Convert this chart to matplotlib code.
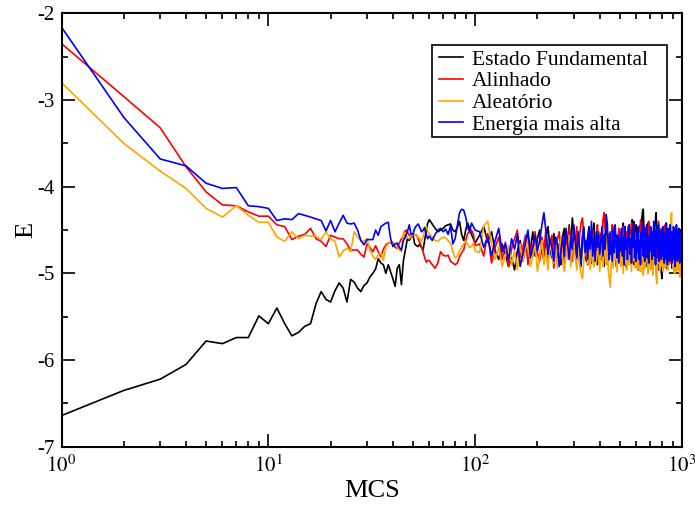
import numpy as np
import matplotlib
matplotlib.use("Agg")
import matplotlib.pyplot as plt
from matplotlib.ticker import FixedLocator, NullFormatter
from matplotlib.patches import Rectangle

plt.rcParams['font.family'] = ['Liberation Serif', 'DejaVu Serif']
plt.rcParams['mathtext.fontset'] = 'stix'
plt.rcParams['axes.unicode_minus'] = False

# MCS steps: every step to 60, every 2nd to 100, every 5th to 1000
mcs = list(range(1, 61)) + list(range(62, 101, 2)) + list(range(105, 1001, 5))

labels = ["Estado Fundamental", "Alinhado", "Aleatório", "Energia mais alta"]
colors = ["#000000", "#ff0000", "#ffa500", "#0000ff"]

estado_fundamental = [
    -6.64, -6.35, -6.22, -6.05, -5.78, -5.81, -5.74, -5.74, -5.49, -5.58,
    -5.40, -5.58, -5.72, -5.68, -5.61, -5.58, -5.35, -5.21, -5.30, -5.33,
    -5.20, -5.11, -5.17, -5.33, -5.07, -5.10, -5.17, -5.21, -5.14, -5.11,
    -5.04, -5.00, -4.95, -4.83, -4.88, -4.90, -5.00, -4.90, -4.98, -5.06,
    -5.15, -4.94, -4.90, -5.13, -4.85, -4.73, -4.60, -4.62, -4.58, -4.55,
    -4.66, -4.68, -4.69, -4.66, -4.70, -4.73, -4.62, -4.50, -4.42, -4.38,
    -4.43, -4.48, -4.52, -4.50, -4.48, -4.45, -4.44, -4.43, -4.50, -4.52,
    -4.47, -4.40, -4.55, -4.62, -4.50, -4.42, -4.48, -4.55, -4.60, -4.65,
    -4.56, -4.46, -4.64, -4.52, -4.74, -4.84, -4.66, -4.78, -4.92, -4.82,
    -4.96, -4.74, -4.62, -4.86, -4.70, -4.56, -4.72, -4.52, -4.80, -4.60,
    -4.50, -4.76, -4.84, -4.58, -4.46, -4.72, -4.82, -4.54, -4.70, -4.88,
    -4.66, -4.90, -4.56, -4.48, -4.80, -4.64, -4.44, -4.70, -4.36, -4.54,
    -4.72, -4.84, -4.52, -4.78, -4.92, -4.60, -4.48, -4.76, -4.86, -4.58,
    -4.46, -4.74, -4.88, -4.56, -4.42, -4.80, -4.62, -4.90, -4.52, -4.72,
    -4.84, -4.50, -4.66, -4.92, -4.72, -4.44, -4.70, -4.86, -4.54, -4.78,
    -4.60, -4.90, -4.68, -4.46, -4.82, -4.56, -4.94, -4.66, -4.50, -4.76,
    -4.86, -4.52, -4.72, -4.42, -4.84, -4.60, -4.92, -4.54, -4.78, -4.46,
    -4.68, -4.88, -4.50, -4.80, -4.38, -4.72, -4.90, -4.56, -4.76, -4.44,
    -4.82, -4.58, -4.96, -4.52, -4.70, -4.44, -4.86, -4.36, -4.28, -4.26,
    -4.52, -4.80, -4.60, -4.92, -4.54, -4.76, -4.42, -4.88, -4.58, -4.78,
    -4.50, -4.72, -4.94, -4.56, -4.84, -4.44, -4.68, -4.88, -4.36, -4.30,
    -4.54, -4.80, -4.62, -4.96, -4.56, -4.86, -4.50, -4.94, -5.00, -5.06,
    -4.80, -4.52, -4.74, -4.46, -4.88, -4.58, -4.82, -4.42, -4.70, -4.84,
    -4.56, -4.90, -4.50, -4.76, -4.60, -4.86, -4.44, -4.72, -4.94, -4.54,
    -4.82, -4.60, -4.96, -4.54, -4.84, -4.48, -4.92, -4.64, -4.86, -4.58,
    -4.52, -4.80, -4.96, -4.60, -4.88, -4.50, -4.74, -4.84, -4.56, -4.70,
]

alinhado = [
    -2.35, -2.96, -3.32, -3.77, -4.06, -4.21, -4.22, -4.29, -4.34, -4.34,
    -4.44, -4.46, -4.61, -4.57, -4.55, -4.48, -4.60, -4.63, -4.69, -4.56,
    -4.58, -4.60, -4.60, -4.66, -4.73, -4.73, -4.73, -4.78, -4.81, -4.66,
    -4.70, -4.75, -4.68, -4.75, -4.81, -4.72, -4.67, -4.65, -4.65, -4.64,
    -4.70, -4.71, -4.65, -4.60, -4.58, -4.50, -4.52, -4.56, -4.58, -4.56,
    -4.55, -4.56, -4.60, -4.65, -4.69, -4.75, -4.82, -4.87, -4.85, -4.85,
    -4.90, -4.94, -4.88, -4.75, -4.79, -4.80, -4.79, -4.86, -4.88, -4.90,
    -4.88, -4.81, -4.76, -4.73, -4.62, -4.54, -4.52, -4.50, -4.55, -4.68,
    -4.66, -4.80, -4.54, -4.88, -4.70, -4.58, -4.84, -4.64, -4.92, -4.72,
    -4.60, -4.50, -4.82, -4.70, -4.56, -4.90, -4.66, -4.80, -4.52, -4.76,
    -4.86, -4.58, -4.74, -4.48, -4.84, -4.64, -4.56, -4.94, -4.70, -4.60,
    -4.52, -4.82, -4.62, -4.90, -4.56, -4.78, -4.46, -4.72, -4.86, -4.58,
    -4.70, -4.46, -4.84, -4.56, -4.42, -4.36, -4.54, -4.80, -4.62, -4.90,
    -4.74, -4.52, -4.86, -4.50, -4.68, -4.84, -4.58, -4.44, -4.80, -4.62,
    -4.54, -4.82, -4.38, -4.30, -4.50, -4.74, -4.90, -4.58, -4.80, -4.52,
    -4.66, -4.44, -4.84, -4.70, -4.54, -4.92, -4.60, -4.78, -4.48, -4.74,
    -4.86, -4.56, -4.72, -4.46, -4.82, -4.60, -4.90, -4.52, -4.76, -4.64,
    -4.50, -4.80, -4.58, -4.42, -4.86, -4.68, -4.54, -4.84, -4.62, -4.92,
    -4.56, -4.76, -4.48, -4.84, -4.60, -4.38, -4.72, -4.88, -4.54, -4.80,
    -4.64, -4.46, -4.88, -4.58, -4.80, -4.50, -4.72, -4.40, -4.86, -4.56,
    -4.76, -4.50, -4.84, -4.62, -4.94, -4.54, -4.80, -4.46, -4.70, -4.88,
    -4.58, -4.82, -4.52, -4.40, -4.74, -4.86, -4.56, -4.78, -4.48, -4.84,
    -4.62, -4.92, -4.54, -4.80, -4.60, -4.44, -4.86, -4.70, -4.56, -4.95,
    -4.74, -4.50, -4.84, -4.62, -4.56, -4.88, -4.48, -4.80, -4.60, -4.72,
    -4.84, -4.54, -4.70, -4.92, -4.58, -4.80, -4.50, -4.76, -4.86, -4.56,
    -4.66, -4.84, -4.52, -4.94, -4.62, -4.80, -4.56, -4.88, -4.60, -4.74,
]

aleatorio = [
    -2.80, -3.50, -3.82, -4.02, -4.25, -4.35, -4.22, -4.33, -4.41, -4.41,
    -4.58, -4.63, -4.52, -4.60, -4.56, -4.57, -4.57, -4.61, -4.52, -4.60,
    -4.63, -4.81, -4.74, -4.71, -4.75, -4.52, -4.58, -4.62, -4.63, -4.60,
    -4.73, -4.80, -4.84, -4.78, -4.77, -4.85, -4.69, -4.66, -4.64, -4.65,
    -4.66, -4.70, -4.73, -4.75, -4.52, -4.55, -4.59, -4.60, -4.57, -4.55,
    -4.55, -4.57, -4.58, -4.60, -4.63, -4.58, -4.49, -4.46, -4.52, -4.54,
    -4.58, -4.62, -4.63, -4.60, -4.58, -4.59, -4.62, -4.65, -4.75, -4.82,
    -4.80, -4.74, -4.70, -4.66, -4.63, -4.66, -4.70, -4.69, -4.65, -4.74,
    -4.76, -4.45, -4.40, -4.66, -4.84, -4.70, -4.92, -4.80, -4.68, -4.90,
    -4.74, -4.96, -4.66, -4.86, -4.72, -4.60, -4.92, -4.80, -4.68, -4.98,
    -4.80, -4.62, -4.90, -4.72, -4.96, -4.64, -4.78, -4.88, -4.66, -4.94,
    -4.74, -4.58, -4.86, -4.98, -4.68, -4.84, -4.56, -4.92, -4.72, -4.64,
    -4.82, -4.96, -4.66, -4.90, -5.00, -5.06, -4.86, -4.74, -4.62, -4.88,
    -4.72, -4.96, -4.58, -4.84, -4.92, -4.66, -4.88, -4.76, -4.60, -4.98,
    -4.78, -4.62, -4.92, -4.80, -4.66, -4.90, -4.56, -4.96, -5.06, -5.16,
    -4.90, -4.70, -4.94, -4.62, -4.84, -4.72, -4.98, -4.58, -4.86, -4.74,
    -4.92, -4.64, -4.82, -5.00, -4.60, -4.88, -4.70, -4.96, -4.62, -4.84,
    -4.90, -4.56, -4.78, -4.98, -4.64, -4.86, -4.70, -4.52, -4.94, -4.80,
    -4.62, -4.96, -4.74, -4.88, -4.54, -4.98, -4.70, -4.84, -4.60, -5.02,
    -4.80, -4.64, -4.94, -4.56, -4.86, -4.72, -5.00, -4.62, -4.90, -4.70,
    -4.96, -4.60, -4.84, -4.70, -5.02, -4.64, -4.88, -4.56, -4.92, -5.04,
    -5.12, -4.94, -4.72, -4.88, -4.60, -4.96, -4.68, -4.86, -4.58, -4.92,
    -4.74, -4.98, -4.62, -4.86, -4.56, -4.94, -4.70, -4.90, -4.60, -4.82,
    -4.96, -4.64, -4.88, -4.56, -4.78, -4.48, -4.36, -4.30, -4.58, -4.86,
    -4.94, -4.62, -4.84, -5.00, -4.68, -4.90, -4.56, -4.98, -4.72, -4.88,
    -4.64, -4.96, -4.80, -4.60, -5.04, -4.70, -4.92, -4.58, -4.94, -4.76,
]

energia_mais_alta = [
    -2.16, -3.20, -3.68, -3.76, -3.96, -4.02, -4.01, -4.22, -4.23, -4.25,
    -4.39, -4.37, -4.38, -4.31, -4.33, -4.35, -4.37, -4.39, -4.51, -4.39,
    -4.52, -4.42, -4.33, -4.42, -4.43, -4.42, -4.50, -4.62, -4.67, -4.61,
    -4.61, -4.61, -4.50, -4.56, -4.46, -4.44, -4.42, -4.41, -4.60, -4.69,
    -4.66, -4.65, -4.70, -4.73, -4.62, -4.58, -4.52, -4.44, -4.55, -4.55,
    -4.48, -4.45, -4.43, -4.47, -4.52, -4.50, -4.47, -4.55, -4.60, -4.57,
    -4.62, -4.55, -4.50, -4.48, -4.52, -4.49, -4.55, -4.45, -4.66, -4.60,
    -4.45, -4.30, -4.26, -4.27, -4.35, -4.47, -4.52, -4.42, -4.46, -4.50,
    -4.52, -4.70, -4.58, -4.80, -4.62, -4.48, -4.75, -4.66, -4.84, -4.60,
    -4.72, -4.55, -4.92, -4.78, -4.64, -4.50, -4.82, -4.68, -4.56, -4.74,
    -4.62, -4.45, -4.30, -4.52, -4.78, -4.60, -4.70, -4.86, -4.58, -4.66,
    -4.92, -4.74, -4.56, -4.80, -4.48, -4.66, -4.84, -4.58, -4.72, -4.44,
    -4.62, -4.82, -4.54, -4.70, -4.88, -4.58, -4.46, -4.76, -4.62, -4.84,
    -4.50, -4.72, -4.40, -4.80, -4.60, -4.86, -4.52, -4.70, -4.56, -4.78,
    -4.64, -4.46, -4.80, -4.55, -4.72, -4.32, -4.42, -4.68, -4.84, -4.54,
    -4.70, -4.86, -4.50, -4.76, -4.44, -4.62, -4.82, -4.56, -4.88, -4.60,
    -4.74, -4.48, -4.80, -4.58, -4.90, -4.46, -4.72, -4.60, -4.84, -4.52,
    -4.44, -4.78, -4.60, -4.88, -4.50, -4.70, -4.40, -4.82, -4.62, -4.86,
    -4.54, -4.76, -4.46, -4.84, -4.62, -4.90, -4.52, -4.70, -4.42, -4.80,
    -4.58, -4.86, -4.48, -4.72, -4.44, -4.82, -4.56, -4.88, -4.60, -4.74,
    -4.46, -4.70, -4.84, -4.52, -4.78, -4.40, -4.80, -4.58, -4.90, -4.50,
    -4.66, -4.48, -4.82, -4.44, -4.86, -4.60, -4.76, -4.50, -4.84, -4.62,
    -4.80, -4.46, -4.70, -4.88, -4.54, -4.76, -4.42, -4.84, -4.58, -4.90,
    -4.48, -4.78, -4.56, -4.86, -4.44, -4.80, -4.62, -4.52, -4.88, -4.60,
    -4.76, -4.46, -4.84, -4.58, -4.92, -4.50, -4.80, -4.44, -4.72, -4.86,
    -4.56, -4.82, -4.48, -4.74, -4.88, -4.52, -4.78, -4.60, -4.84, -4.66,
]

series = [estado_fundamental, alinhado, aleatorio, energia_mais_alta]

xticks = [1, 10, 100, 1000]
xtick_labels = ["$10^{0}$", "$10^{1}$", "$10^{2}$", "$10^{3}$"]
yticks = [-7, -6, -5, -4, -3, -2]
ytick_labels = ["-7", "-6", "-5", "-4", "-3", "-2"]

fig = plt.figure(figsize=(6.95, 5.09), dpi=100)
ax = fig.add_axes([61.5 / 695, 1 - 446.8 / 509, (682 - 61.5) / 695, (446.8 - 13.3) / 509])

for vals, lab, col in zip(series, labels, colors):
    ax.plot(mcs, vals, color=col, lw=1.2, label=lab)

ax.set_xscale("log")
ax.set_xlim(1, 1000)
ax.set_ylim(-7, -2)
ax.set_xticks(xticks)
ax.set_xticklabels(xtick_labels)
ax.xaxis.set_minor_locator(FixedLocator([m * 10 ** d for d in range(3) for m in range(2, 10)]))
ax.xaxis.set_minor_formatter(NullFormatter())
ax.set_yticks(yticks)
ax.set_yticklabels(ytick_labels)
ax.set_yticks(np.arange(-6.5, -2, 1.0), minor=True)

ax.tick_params(which="both", direction="in", top=True, right=True, width=1.2, labelsize=15, colors="black")
ax.tick_params(which="major", length=9.5)
ax.tick_params(which="minor", length=4.5)
ax.tick_params(axis="x", which="major", pad=6)
ax.tick_params(axis="y", which="major", pad=5)
for sp in ax.spines.values():
    sp.set_linewidth(1.5)

ax.set_xlabel("MCS", fontsize=19, labelpad=2)
ax.set_ylabel("E", fontsize=19, labelpad=0)

# legend frame (xmgrace style box)
ax.add_patch(Rectangle((0.597, 0.7146), 0.976 - 0.597, 0.9269 - 0.7146, transform=ax.transAxes,
                       facecolor="white", edgecolor="black", lw=1.2, zorder=4))
leg = ax.legend(loc="upper left", bbox_to_anchor=(0.6084, 0.9165),
                fontsize=15.5, frameon=False,
                handlelength=1.12, handletextpad=0.42, labelspacing=0.08, borderpad=0.0,
                borderaxespad=0)
leg.set_zorder(5)

fig.savefig("out.png", dpi=100)
